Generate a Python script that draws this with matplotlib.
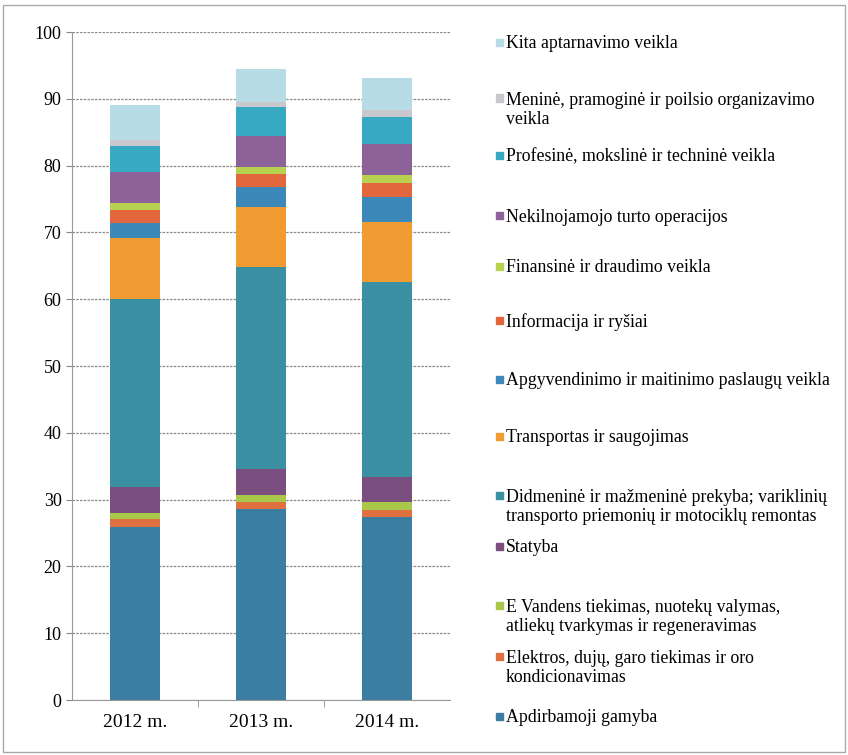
import matplotlib.pyplot as plt
import numpy as np
from matplotlib.patches import Rectangle

years = ['2012 m.', '2013 m.', '2014 m.']

# sectors, bottom to top
sectors = [
    'Apdirbamoji gamyba',
    'Elektros, dujų, garo tiekimas ir oro\nkondicionavimas',
    'E Vandens tiekimas, nuotekų valymas,\natliekų tvarkymas ir regeneravimas',
    'Statyba',
    'Didmeninė ir mažmeninė prekyba; variklinių\ntransporto priemonių ir motociklų remontas',
    'Transportas ir saugojimas',
    'Apgyvendinimo ir maitinimo paslaugų veikla',
    'Informacija ir ryšiai',
    'Finansinė ir draudimo veikla',
    'Nekilnojamojo turto operacijos',
    'Profesinė, mokslinė ir techninė veikla',
    'Meninė, pramoginė ir poilsio organizavimo\nveikla',
    'Kita aptarnavimo veikla',
]

apdirbamoji = [25.9, 28.6, 27.4]
elektros = [1.2, 1.0, 1.0]
vandens = [0.9, 1.1, 1.2]
statyba = [3.9, 3.9, 3.8]
didmenine = [28.2, 30.2, 29.2]
transportas = [9.0, 9.0, 9.0]
apgyvendinimo = [2.3, 3.0, 3.7]
informacija = [1.9, 1.9, 2.1]
finansine = [1.1, 1.1, 1.2]
nekilnojamojo = [4.7, 4.6, 4.6]
profesine = [3.9, 4.4, 4.1]
menine = [0.9, 0.7, 1.0]
kita = [5.1, 5.0, 4.8]

values = [apdirbamoji, elektros, vandens, statyba, didmenine, transportas,
          apgyvendinimo, informacija, finansine, nekilnojamojo, profesine,
          menine, kita]

colors = ['#3b7ea2', '#e0703f', '#a9c84a', '#7a4f80', '#3a8fa3', '#f19b33',
          '#3c88b9', '#e2673c', '#b8d150', '#8c6298', '#37a9c2', '#c9c9cd',
          '#b8dce6']

plt.rcParams['font.family'] = ['Liberation Serif', 'DejaVu Serif']

fig = plt.figure(figsize=(8.48, 7.55), dpi=100)
ax = fig.add_axes([0.0849, 0.0728, 0.4458, 0.8848])

x = np.arange(len(years))
bottom = np.zeros(len(years))
for vals, c in zip(values, colors):
    ax.bar(x, vals, 0.4, bottom=bottom, color=c, zorder=3)
    bottom += np.array(vals)

ax.set_xlim(-0.5, 2.5)
ax.set_ylim(0, 100)
ax.set_yticks(np.arange(0, 101, 10))
ax.set_xticks(x)
ax.set_xticklabels(years, fontsize=14)
ax.tick_params(axis='y', labelsize=13, length=4, color='#888888')
ax.tick_params(axis='x', length=0, pad=10)
ax.set_xticks([0.5, 1.5], minor=True)
ax.tick_params(axis='x', which='minor', length=5, color='#888888')
ax.grid(axis='y', color='#8a8a8a', linewidth=0.9, linestyle=(0, (2, 1)), zorder=0)
for s in ['top', 'right']:
    ax.spines[s].set_visible(False)
for s in ['left', 'bottom']:
    ax.spines[s].set_color('#999999')

# legend, drawn by hand to keep the uneven spacing
leg_y = [718, 668, 617, 548, 507, 438, 381, 322, 268, 217, 157, 110, 44]
W, H = 848, 755
for name, c, yp in zip(sectors, colors, leg_y):
    n = name.count('\n') + 1
    y_first = yp - (n - 1) * 10.5
    fig.patches.append(Rectangle((496 / W, 1 - (y_first + 2) / H), 7 / W, 7 / H,
                                 transform=fig.transFigure, color=c))
    fig.text(506 / W, 1 - yp / H, name, fontsize=12.8, va='center', ha='left',
             linespacing=1.1)

fig.patches.append(Rectangle((0.004, 0.004), 0.992, 0.99, transform=fig.transFigure,
                             fill=False, edgecolor='#aaaaaa', linewidth=1))

fig.savefig('out.png', dpi=100)
